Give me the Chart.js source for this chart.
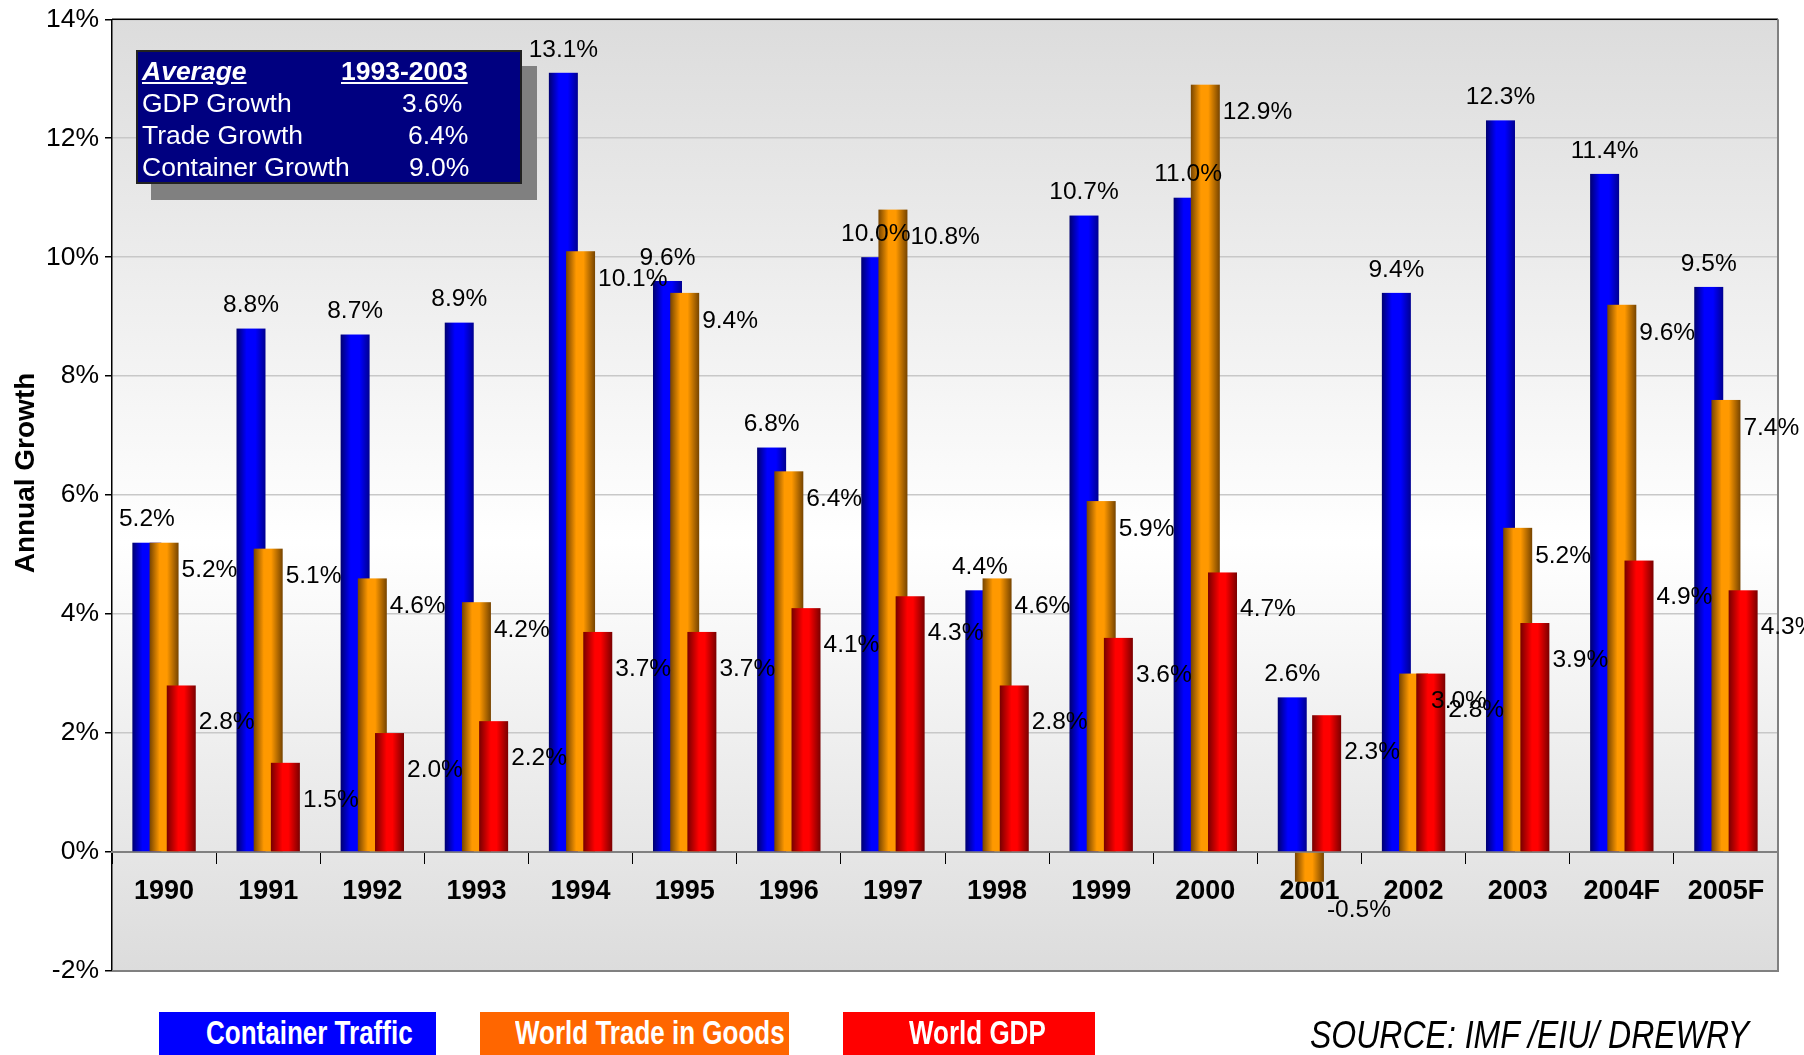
<!DOCTYPE html>
<html>
<head>
<meta charset="utf-8">
<script src="https://cdn.jsdelivr.net/npm/chart.js@4.4.1/dist/chart.umd.min.js"></script>
<style>
    body { margin: 0; background: #fff; font-family: "Liberation Sans", Arial, sans-serif; }
    #wrap { position: absolute; left: 0; top: 0; width: 1804px; height: 1055px; }
    #avgBox {
        position: absolute; left: 136px; top: 50px; width: 382px; height: 130px;
        background: #000080; border: 2px solid #222; box-shadow: 15px 16px 0 #808080;
        color: #fff; font-size: 26.5px; line-height: 32px;
    }
    #avgBox div { position: absolute; white-space: nowrap; }
    .legendBox { position: absolute; top: 1012px; height: 43px; overflow: hidden; }
    .legendBox span {
        position: absolute; top: 5px; color: #fff; font-weight: bold; font-size: 26px;
        white-space: nowrap; transform: scaleY(1.3); transform-origin: left center;
    }
    #source {
        position: absolute; left: 1310px; top: 1017px; font-size: 32px; font-style: italic;
        white-space: nowrap; transform: scaleY(1.2); transform-origin: left center;
    }
</style>
</head>
<body>
<div id="wrap"><canvas id="growthChart"></canvas></div>

<div id="avgBox">
    <div style="left:4px;top:3px;font-weight:bold;font-style:italic;text-decoration:underline;">Average</div>
    <div style="left:203px;top:3px;font-weight:bold;text-decoration:underline;">1993-2003</div>
    <div style="left:4px;top:35px;">GDP Growth</div>
    <div style="left:264px;top:35px;">3.6%</div>
    <div style="left:4px;top:67px;">Trade Growth</div>
    <div style="left:270px;top:67px;">6.4%</div>
    <div style="left:4px;top:99px;">Container Growth</div>
    <div style="left:271px;top:99px;">9.0%</div>
</div>

<div class="legendBox" style="left:159px;width:277px;background:#0000ff;"><span style="left:47px;">Container Traffic</span></div>
<div class="legendBox" style="left:480px;width:309px;background:#ff6600;"><span style="left:35px;">World Trade in Goods</span></div>
<div class="legendBox" style="left:843px;width:252px;background:#ff0000;"><span style="left:66px;">World GDP</span></div>
<div id="source">SOURCE: IMF /EIU/ DREWRY</div>

<script>
const years = ["1990", "1991", "1992", "1993", "1994", "1995", "1996", "1997",
    "1998", "1999", "2000", "2001", "2002", "2003", "2004F", "2005F"];

// bar heights as drawn
const containerTraffic = [5.2, 8.8, 8.7, 8.9, 13.1, 9.6, 6.8, 10.0, 4.4, 10.7, 11.0, 2.6, 9.4, 12.3, 11.4, 9.5];
const worldTrade = [5.2, 5.1, 4.6, 4.2, 10.1, 9.4, 6.4, 10.8, 4.6, 5.9, 12.9, -0.5, 3.0, 5.45, 9.2, 7.6];
const worldGdp = [2.8, 1.5, 2.0, 2.2, 3.7, 3.7, 4.1, 4.3, 2.8, 3.6, 4.7, 2.3, 3.0, 3.85, 4.9, 4.4];

// values as printed on the labels
const tradePrinted = [5.2, 5.1, 4.6, 4.2, 10.1, 9.4, 6.4, 10.8, 4.6, 5.9, 12.9, -0.5, 3.0, 5.2, 9.6, 7.4];
const gdpPrinted = [2.8, 1.5, 2.0, 2.2, 3.7, 3.7, 4.1, 4.3, 2.8, 3.6, 4.7, 2.3, 2.8, 3.9, 4.9, 4.3];

const yTicks = [-2, 0, 2, 4, 6, 8, 10, 12, 14];

const FONT = '"Liberation Sans", Arial, sans-serif';

const shades = [
    [[0, '#000070'], [0.35, '#0000ff'], [0.65, '#0000ff'], [1, '#000090']],
    [[0, '#764400'], [0.35, '#ff9900'], [0.6, '#ff9900'], [1, '#764400']],
    [[0, '#760000'], [0.4, '#ff0000'], [0.6, '#ff0000'], [1, '#7a0000']],
];
const printed = [containerTraffic, tradePrinted, gdpPrinted];

const chartFrame = {
    id: 'chartFrame',
    beforeDraw(chart) {
        const { ctx, chartArea: a } = chart;
        const g = ctx.createLinearGradient(0, a.top, 0, a.bottom);
        g.addColorStop(0, '#dcdcdc');
        g.addColorStop(0.55, '#ffffff');
        g.addColorStop(1, '#dcdcdc');
        ctx.save();
        ctx.fillStyle = g;
        ctx.fillRect(a.left, a.top, a.right - a.left, a.bottom - a.top);
        ctx.restore();
    },
    beforeDatasetsDraw(chart) {
        // draw blue first so orange then red overlap it
        const ctx = chart.ctx;
        chart.getSortedVisibleDatasetMetas().forEach(function (meta) {
            const stops = shades[meta.index];
            meta.data.forEach(function (bar) {
                const p = bar.getProps(['x', 'y', 'base', 'width'], true);
                const left = p.x - p.width / 2;
                const g = ctx.createLinearGradient(left, 0, left + p.width, 0);
                stops.forEach(s => g.addColorStop(s[0], s[1]));
                ctx.fillStyle = g;
                ctx.fillRect(left, Math.min(p.y, p.base), p.width, Math.abs(p.base - p.y));
            });
        });
        return false;
    },
    afterDraw(chart) {
        const { ctx, chartArea: a } = chart;
        ctx.save();
        ctx.lineWidth = 1.5;
        ctx.strokeStyle = '#000';
        ctx.beginPath();
        ctx.moveTo(a.left, a.top);
        ctx.lineTo(a.right, a.top);
        ctx.stroke();
        ctx.lineWidth = 2;
        ctx.strokeStyle = '#808080';
        ctx.beginPath();
        ctx.moveTo(a.right, a.top);
        ctx.lineTo(a.right, a.bottom);
        ctx.lineTo(a.left, a.bottom);
        ctx.stroke();

        // value labels
        ctx.fillStyle = '#000';
        ctx.font = '24.5px ' + FONT;
        ctx.textBaseline = 'middle';
        chart.getSortedVisibleDatasetMetas().forEach(function (meta) {
            meta.data.forEach(function (bar, i) {
                const p = bar.getProps(['x', 'y', 'width'], true);
                const txt = printed[meta.index][i].toFixed(1) + '%';
                if (meta.index === 0) {
                    ctx.textAlign = 'center';
                    ctx.fillText(txt, p.x, p.y - 23);
                } else {
                    ctx.textAlign = 'left';
                    ctx.fillText(txt, p.x + p.width / 2 + 3, p.y + (meta.index === 1 ? 28 : 37));
                }
            });
        });

        // axis title
        ctx.translate(26, 473);
        ctx.rotate(-Math.PI / 2);
        ctx.textAlign = 'center';
        ctx.font = 'bold 28px ' + FONT;
        ctx.fillText('Annual Growth', 0, 0);
        ctx.restore();
    }
};

new Chart(document.getElementById('growthChart'), {
    type: 'bar',
    data: {
        labels: years,
        datasets: [
            { label: 'Container Traffic', data: containerTraffic, backgroundColor: '#0000ff' },
            { label: 'World Trade in Goods', data: worldTrade, backgroundColor: '#ff9900' },
            { label: 'World GDP', data: worldGdp, backgroundColor: '#ff0000' },
        ]
    },
    options: {
        responsive: true,
        maintainAspectRatio: false,
        animation: false,
        categoryPercentage: 0.4955,
        barPercentage: 1.686,
        layout: { padding: { left: 0, top: 17, right: 26, bottom: 84 } },
        plugins: {
            legend: { display: false },
            tooltip: { enabled: false },
        },
        scales: {
            y: {
                min: -2,
                max: 14,
                afterBuildTicks: function (scale) {
                    scale.ticks = yTicks.map(v => ({ value: v }));
                },
                afterFit: function (scale) {
                    scale.width = 112;
                },
                ticks: {
                    callback: v => v + '%',
                    color: '#000',
                    font: { family: FONT, size: 26.5, lineHeight: 1 },
                    padding: 6,
                },
                grid: { color: '#c8c8c8', lineWidth: 1.5, tickColor: '#000', tickLength: 7 },
                border: { color: '#000', width: 1.5 },
            },
            x: {
                position: { y: 0 },
                offset: true,
                grid: { drawOnChartArea: false, drawTicks: true, tickLength: 11, tickColor: '#000', offset: true },
                border: { color: '#808080', width: 2 },
                ticks: {
                    color: '#000',
                    font: { family: FONT, size: 27, weight: 'bold' },
                    padding: 12,
                    maxRotation: 0,
                    autoSkip: false,
                },
            },
        },
    },
    plugins: [chartFrame],
});
</script>
</body>
</html>
